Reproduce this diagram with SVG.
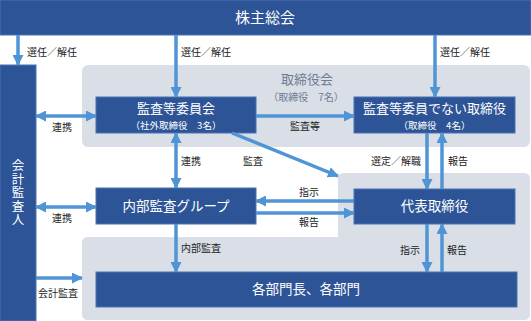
<svg xmlns="http://www.w3.org/2000/svg" width="531" height="321" viewBox="0 0 531 321">
<style>
.box{fill:#2D5496;stroke:#4A72B4;stroke-width:1}
.panel{fill:#D9DEE7}
.t{font-family:"Noto Sans CJK JP","Noto Sans",sans-serif;fill:#fff;text-anchor:middle}
.lb{font-family:"Noto Sans CJK JP","Noto Sans",sans-serif;fill:#222;font-size:10px}
.g{font-family:"Noto Sans CJK JP","Noto Sans",sans-serif;fill:#6E7C93;text-anchor:middle}
.c line{stroke:#4F94D4;stroke-width:3.5;fill:none}
</style>
<defs>
<marker id="ah" markerUnits="userSpaceOnUse" markerWidth="11" markerHeight="11" refX="10" refY="5.5" orient="auto-start-reverse" viewBox="0 0 11 11">
<path d="M0,0 L11,5.5 L0,11 z" fill="#4F94D4"/>
</marker>
</defs>
<rect width="531" height="321" fill="#fff"/>
<g id="panel-board">
<rect class="panel" x="82" y="65" width="448" height="82" rx="6"/>
<text class="g" x="307" y="84" font-size="13">取締役会</text>
<text class="g" x="306" y="100.5" font-size="10">（取締役　7名）</text>
</g>
<g id="panel-exec">
<path class="panel" d="M344,173 H524 Q530,173 530,179 V314 Q530,320 524,320 H88 Q82,320 82,314 V243 Q82,237 88,237 H338 V179 Q338,173 344,173 Z"/>
</g>
<g id="shareholders">
<rect class="box" x="0" y="0" width="531" height="35" stroke="none"/>
<text class="t" x="265" y="23" font-size="15">株主総会</text>
</g>
<g id="auditor">
<rect class="box" x="0" y="65" width="36" height="256" stroke="none"/>
<text class="t" x="18" y="193" font-size="12.5" style="writing-mode:vertical-rl" letter-spacing="1">会計監査人</text>
</g>
<g id="audit-committee">
<rect class="box" x="96" y="97" width="160" height="36"/>
<text class="t" x="176" y="113" font-size="13">監査等委員会</text>
<text class="t" x="176" y="128.5" font-size="9.5">（社外取締役　3名）</text>
</g>
<g id="non-audit-directors">
<rect class="box" x="354" y="97" width="161" height="36"/>
<text class="t" x="434.5" y="113" font-size="13">監査等委員でない取締役</text>
<text class="t" x="434.5" y="128.5" font-size="9.5">（取締役　4名）</text>
</g>
<g id="internal-audit">
<rect class="box" x="96" y="188" width="160" height="36"/>
<text class="t" x="176" y="211" font-size="13.5">内部監査グループ</text>
</g>
<g id="representative">
<rect class="box" x="354" y="189" width="161" height="35"/>
<text class="t" x="434.5" y="211" font-size="13.5">代表取締役</text>
</g>
<g id="departments">
<rect class="box" x="96" y="272" width="421" height="35"/>
<text class="t" x="306" y="294" font-size="13.5">各部門長、各部門</text>
</g>
<g class="c" id="connectors">
<line x1="18" y1="35" x2="18" y2="65" marker-end="url(#ah)"/>
<line x1="176" y1="35" x2="176" y2="97" marker-end="url(#ah)"/>
<line x1="435" y1="35" x2="435" y2="97" marker-end="url(#ah)"/>
<line x1="36" y1="116" x2="96" y2="116" marker-start="url(#ah)" marker-end="url(#ah)"/>
<line x1="256" y1="116" x2="354" y2="116" marker-end="url(#ah)"/>
<line x1="176" y1="133" x2="176" y2="188" marker-start="url(#ah)" marker-end="url(#ah)"/>
<line x1="232" y1="133" x2="338" y2="176" marker-end="url(#ah)"/>
<line x1="427" y1="133" x2="427" y2="189" marker-end="url(#ah)"/>
<line x1="442" y1="189" x2="442" y2="133" marker-end="url(#ah)"/>
<line x1="36" y1="207" x2="96" y2="207" marker-start="url(#ah)" marker-end="url(#ah)"/>
<line x1="354" y1="201" x2="256" y2="201" marker-end="url(#ah)"/>
<line x1="256" y1="213" x2="354" y2="213" marker-end="url(#ah)"/>
<line x1="176" y1="224" x2="176" y2="272" marker-end="url(#ah)"/>
<line x1="427" y1="224" x2="427" y2="272" marker-end="url(#ah)"/>
<line x1="442" y1="272" x2="442" y2="224" marker-end="url(#ah)"/>
<line x1="36" y1="278" x2="82" y2="278" marker-end="url(#ah)"/>
</g>
<g id="labels">
<text class="lb" x="27" y="56">選任／解任</text>
<text class="lb" x="181" y="56">選任／解任</text>
<text class="lb" x="440" y="56">選任／解任</text>
<text class="lb" x="52" y="131">連携</text>
<text class="lb" x="290" y="130">監査等</text>
<text class="lb" x="181" y="165">連携</text>
<text class="lb" x="243" y="165">監査</text>
<text class="lb" x="421" y="165" text-anchor="end">選定／解職</text>
<text class="lb" x="448" y="165">報告</text>
<text class="lb" x="299" y="196">指示</text>
<text class="lb" x="299" y="226">報告</text>
<text class="lb" x="52" y="222">連携</text>
<text class="lb" x="181" y="252">内部監査</text>
<text class="lb" x="400" y="254">指示</text>
<text class="lb" x="447" y="254">報告</text>
<text class="lb" x="38" y="297">会計監査</text>
</g>
</svg>
